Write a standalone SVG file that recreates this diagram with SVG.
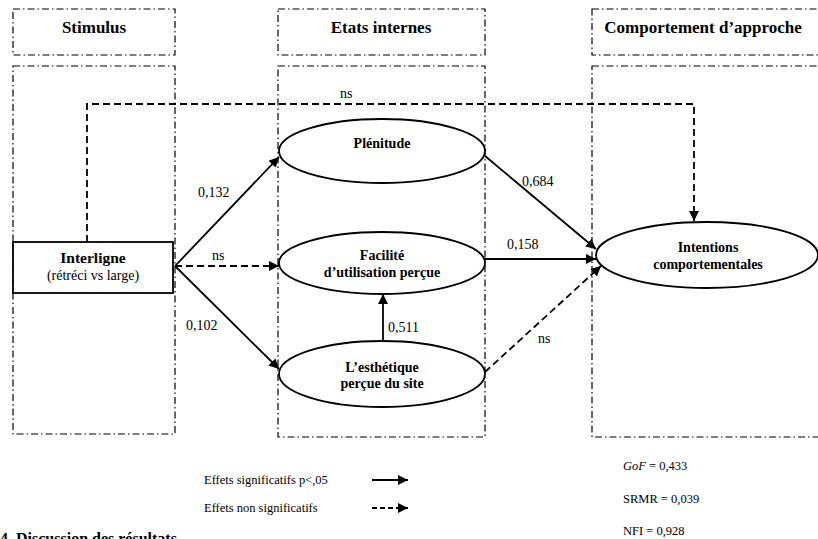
<svg xmlns="http://www.w3.org/2000/svg" width="818" height="539" viewBox="0 0 818 539" font-family="'Liberation Serif', 'DejaVu Serif', serif">
<defs>
<style>
text{font-family:'Liberation Serif','DejaVu Serif',serif;fill:#000}
.hdr{font-size:17px;font-weight:bold;text-anchor:middle}
.node{font-size:14px;font-weight:bold;text-anchor:middle}
.lbl{font-size:14px}
.leg{font-size:12.5px}
.zone{fill:none;stroke:#000;stroke-width:1.2;stroke-dasharray:7 3 1.5 3}
.shape{fill:#fff;stroke:#000;stroke-width:1.8}
.sol{fill:none;stroke:#000;stroke-width:1.8;marker-end:url(#ah)}
.dsh{fill:none;stroke:#000;stroke-width:1.8;stroke-dasharray:7 4;marker-end:url(#ah)}
</style>
<marker id="ah" viewBox="0 0 10 10" refX="10" refY="5" markerWidth="10" markerHeight="10" markerUnits="userSpaceOnUse" orient="auto">
<path d="M0,0 L10,5 L0,10 Z" fill="#000"/>
</marker>
</defs>
<rect width="818" height="539" fill="#fff"/>

<g id="zones">
<rect class="zone" x="13" y="9" width="162" height="46"/>
<rect class="zone" x="278" y="9" width="207" height="46"/>
<rect class="zone" x="592" y="9" width="240" height="46"/>
<rect class="zone" x="13" y="66" width="162" height="368"/>
<rect class="zone" x="278" y="66" width="207" height="371"/>
<rect class="zone" x="592" y="66" width="240" height="371"/>
<text class="hdr" x="94" y="33">Stimulus</text>
<text class="hdr" x="381" y="33">Etats internes</text>
<text class="hdr" x="703" y="33">Comportement d’approche</text>
</g>

<g id="connectors">
<path class="dsh" d="M87,242 V104 H694 V221"/>
<text class="lbl" x="340" y="98">ns</text>
<path class="sol" d="M175,266 L279,157"/>
<text class="lbl" x="198" y="197">0,132</text>
<path class="dsh" d="M175,266 H279"/>
<text class="lbl" x="212" y="260">ns</text>
<path class="sol" d="M175,266 L279,369"/>
<text class="lbl" x="186" y="330">0,102</text>
<path class="sol" d="M485,156 L596,249"/>
<text class="lbl" x="522" y="186">0,684</text>
<path class="sol" d="M485,259 H596"/>
<text class="lbl" x="507" y="249">0,158</text>
<path class="dsh" d="M485,372 L601,266"/>
<text class="lbl" x="538" y="343">ns</text>
<path class="sol" d="M383,342 V294"/>
<text class="lbl" x="388" y="332">0,511</text>
</g>

<g id="interligne">
<rect class="shape" x="13" y="242" width="160" height="51"/>
<text class="node" x="93" y="263" style="font-size:15.5px">Interligne</text>
<text x="93" y="280" style="font-size:14px;text-anchor:middle">(rétréci vs large)</text>
</g>

<g id="plenitude">
<ellipse class="shape" cx="382" cy="151" rx="103" ry="32"/>
<text class="node" x="382" y="148">Plénitude</text>
</g>

<g id="facilite">
<ellipse class="shape" cx="382" cy="263" rx="103" ry="31"/>
<text class="node" x="382" y="260">Facilité</text>
<text class="node" x="382" y="277">d’utilisation perçue</text>
</g>

<g id="esthetique">
<ellipse class="shape" cx="382" cy="374" rx="103" ry="33"/>
<text class="node" x="382" y="372">L’esthétique</text>
<text class="node" x="382" y="388">perçue du site</text>
</g>

<g id="intentions">
<ellipse class="shape" cx="707" cy="255" rx="111" ry="33"/>
<text class="node" x="708" y="252">Intentions</text>
<text class="node" x="708" y="269">comportementales</text>
</g>

<g id="legend">
<text class="leg" x="204" y="484">Effets significatifs p&lt;,05</text>
<path class="sol" d="M372,480 H408"/>
<text class="leg" x="204" y="512">Effets non significatifs</text>
<path class="dsh" style="stroke-dasharray:5 3" d="M372,508 H408"/>
<text class="leg" x="623" y="470"><tspan font-style="italic">GoF</tspan> = 0,433</text>
<text class="leg" x="623" y="503">SRMR = 0,039</text>
<text class="leg" x="623" y="535">NFI = 0,928</text>
<text x="0" y="544" style="font-size:16px;font-weight:bold">4. Discussion des résultats</text>
</g>
</svg>
